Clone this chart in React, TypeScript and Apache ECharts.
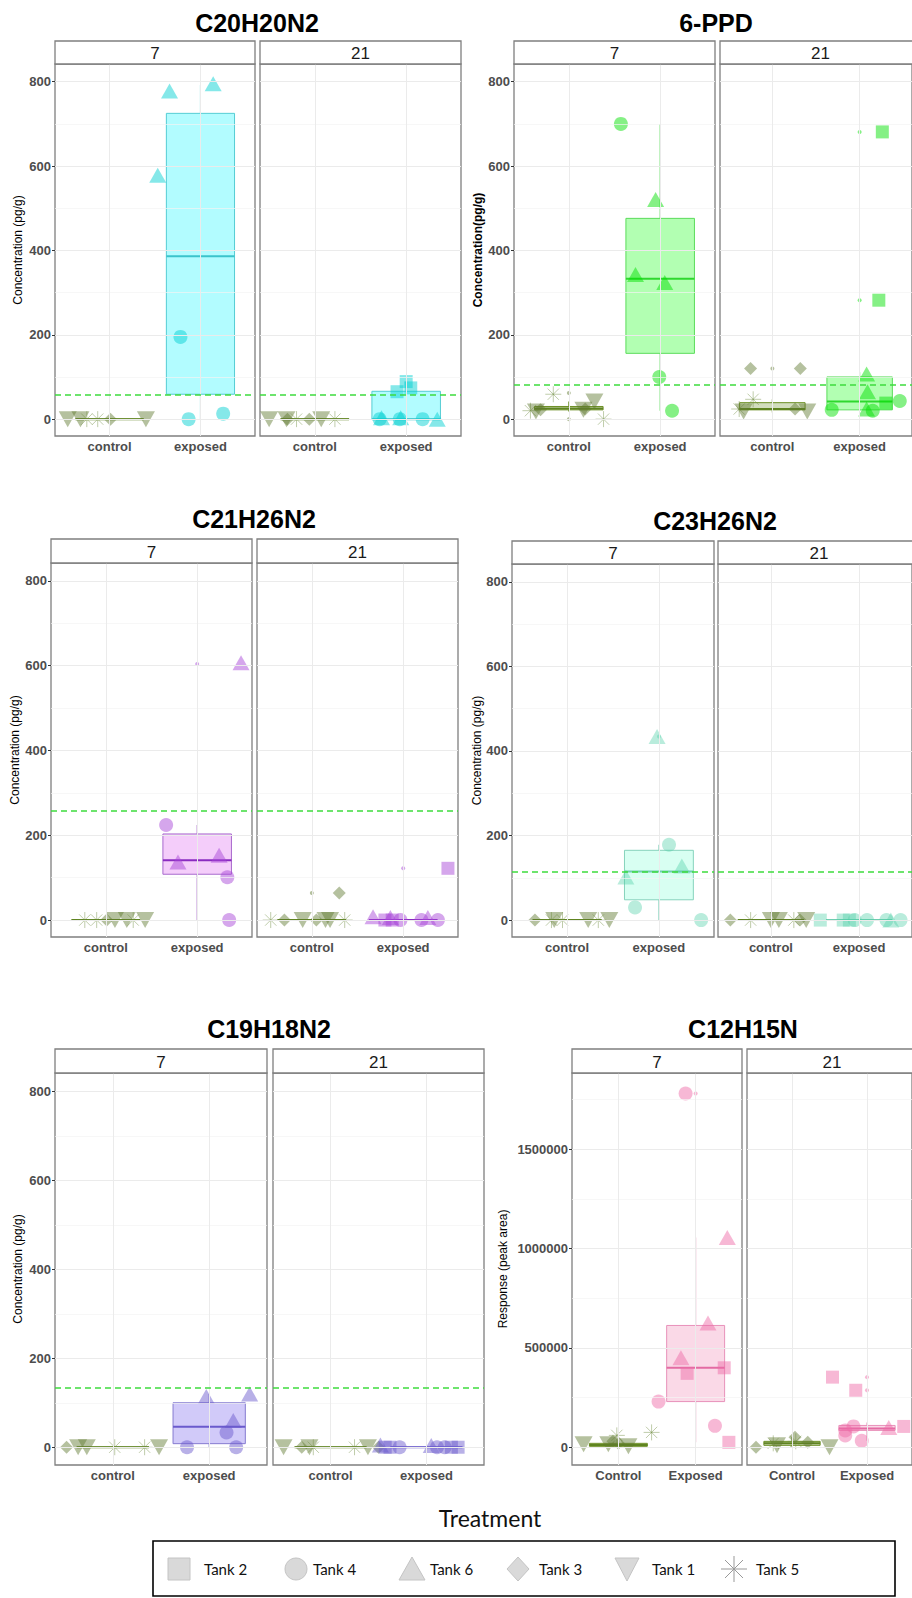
import React, { useEffect, useRef } from "react";
import * as echarts from "echarts";

// ---------------- DATA ----------------
const PANEL_TITLES = ["C20H20N2", "6-PPD", "C21H26N2", "C23H26N2", "C19H18N2", "C12H15N"];
const Y_TITLES = [
  "Concentration (pg/g)",
  "Concentration(pg/g)",
  "Concentration (pg/g)",
  "Concentration (pg/g)",
  "Concentration (pg/g)",
  "Response (peak area)",
];
const DAYS = ["7", "21"];
const TREATMENTS_LOWER = ["control", "exposed"];
const TREATMENTS_UPPER = ["Control", "Exposed"];
const CONC_TICKS = [0, 200, 400, 600, 800];
const CONC_MINOR = [100, 300, 500, 700];
const CONC_RANGE = [-40, 842];
const RESP_TICKS = [0, 500000, 1000000, 1500000];
const RESP_MINOR = [250000, 750000, 1250000, 1750000];
const RESP_RANGE = [-89000, 1883000];
// detection limit (dashed green line) per panel
const LOD = [58, 81, 258, 114, 133, null];
const LEGEND_TANKS = [2, 4, 6, 3, 1, 5];
const TANK_NAMES = { 1: "Tank 1", 2: "Tank 2", 3: "Tank 3", 4: "Tank 4", 5: "Tank 5", 6: "Tank 6" };
const CONTROL_TANKS = [1, 3, 5];

// points: [tank, jitter within treatment, value]
const C20_D7 = [
  [1, -0.46, 0], [1, -0.32, 0], [5, -0.25, 0], [5, -0.13, 0], [3, 0.01, 0], [1, 0.4, 0],
  [6, -0.34, 778], [6, 0.14, 795], [6, -0.47, 578], [4, -0.22, 195], [4, -0.13, 0], [4, 0.25, 13],
];
const C20_D21 = [
  [1, -0.5, 0], [3, -0.3, 0], [1, -0.31, 0], [5, -0.2, 0], [3, -0.06, 0], [1, 0.07, 0], [5, 0.22, 0],
  [2, -0.1, 65], [2, 0.0, 89], [2, 0.05, 74],
  [4, -0.29, 0], [6, -0.27, 3], [4, -0.07, 0], [6, -0.06, 3], [4, 0.18, 0], [6, 0.34, 0],
];
const PPD_D7 = [
  [5, -0.42, 20], [1, -0.36, 18], [3, -0.31, 22], [5, -0.17, 59], [1, 0.16, 22], [3, 0.18, 24], [1, 0.28, 42], [5, 0.38, 0],
  [4, -0.43, 700], [6, -0.05, 521], [6, -0.27, 343], [6, 0.05, 324], [4, -0.01, 100], [4, 0.13, 20],
];
const PPD_D21 = [
  [3, -0.25, 120], [3, 0.32, 120], [5, -0.22, 47], [5, -0.38, 24], [1, -0.33, 18], [3, 0.26, 24], [1, 0.4, 18],
  [4, -0.32, 22], [6, 0.08, 107], [6, 0.09, 65], [6, 0.08, 24], [4, 0.15, 20], [2, 0.3, 38], [4, 0.46, 43],
  [2, 0.26, 681], [2, 0.22, 282],
];
const C21_D7 = [
  [5, -0.23, 0], [5, -0.1, 0], [3, 0.01, 0], [1, 0.1, 0], [1, 0.23, 0], [5, 0.3, 0], [1, 0.43, 0],
  [4, -0.34, 224], [6, -0.21, 137], [6, 0.24, 153], [4, 0.33, 101], [4, 0.35, 0], [6, 0.48, 607],
];
const C21_D21 = [
  [5, -0.45, 0], [3, -0.3, 0], [1, -0.1, 0], [3, 0.05, 0], [1, 0.15, 0], [1, 0.2, 0], [5, 0.36, 0], [3, 0.3, 64],
  [6, -0.33, 8], [2, -0.2, 0], [6, -0.14, 6], [2, -0.12, 0], [4, -0.03, 0], [4, 0.2, 0], [6, 0.27, 6], [4, 0.38, 0],
  [2, 0.49, 122],
];
const C23_D7 = [
  [3, -0.35, 0], [1, -0.14, 0], [5, -0.17, 0], [5, -0.05, 0], [1, 0.23, 0], [5, 0.34, 0], [1, 0.46, 0],
  [6, -0.02, 434], [4, 0.11, 178], [6, 0.25, 128], [6, -0.36, 102], [4, -0.26, 30], [4, 0.46, 0],
];
const C23_D21 = [
  [3, -0.46, 0], [5, -0.23, 0], [1, 0.0, 0], [1, 0.09, 0], [5, 0.26, 0], [3, 0.33, 0], [1, 0.4, 0],
  [2, -0.44, 0], [2, -0.18, 0], [2, -0.11, 0], [4, -0.05, 0], [4, 0.09, 0], [4, 0.31, 0], [6, 0.36, 0], [4, 0.47, 0],
];
const C19_D7 = [
  [3, -0.48, 0], [1, -0.36, 0], [1, -0.27, 0], [5, 0.02, 0], [5, 0.33, 0], [1, 0.48, 0],
  [4, -0.23, 0], [6, -0.03, 114], [6, 0.42, 120], [6, 0.25, 60], [4, 0.18, 33], [4, 0.28, 0],
];
const C19_D21 = [
  [1, -0.49, 0], [3, -0.3, 0], [1, -0.22, 0], [5, -0.18, 0], [5, 0.25, 0], [1, 0.39, 0], [3, 0.5, 0],
  [6, -0.48, 5], [2, -0.43, 0], [2, -0.38, 0], [4, -0.28, 0], [6, 0.05, 4], [4, 0.11, 0], [4, 0.19, 0], [2, 0.26, 0], [2, 0.33, 0],
];
const C12_D7 = [
  [1, -0.45, 15000], [1, -0.13, 15000], [3, -0.07, 30000], [5, -0.02, 60000], [1, 0.13, 5000], [3, 0.0, 20000], [5, 0.43, 75000],
  [4, -0.13, 1780000], [6, 0.41, 1055000], [6, 0.16, 625000], [6, -0.19, 450000], [2, -0.11, 372000], [2, 0.37, 400000],
  [4, -0.48, 230000], [4, 0.25, 108000], [2, 0.43, 25000],
];
const C12_D21 = [
  [3, -0.48, 0], [1, -0.2, 10000], [5, -0.25, 20000], [3, 0.04, 50000], [3, 0.21, 25000], [1, 0.5, 0], [5, 0.05, 30000],
  [2, -0.46, 353000], [2, -0.15, 287000], [4, -0.18, 105000], [4, -0.29, 85000], [4, -0.29, 60000], [4, -0.07, 33000],
  [6, 0.29, 100000], [2, 0.49, 105000],
];

// boxes: [control, exposed] each [lower whisker, Q1, median, Q3, upper whisker]
const C20_D7_BOX = [[0, 0, 0, 0, 0], [0, 59, 386, 725, 792]];
const C20_D21_BOX = [[0, 0, 0, 0, 0], [0, 0, 0, 66, 89]];
const PPD_D7_BOX = [[18, 22, 25, 30, 42], [20, 156, 333, 476, 700]];
const PPD_D21_BOX = [[16, 22, 24, 39, 47], [20, 22, 42, 100, 111]];
const C21_D7_BOX = [[0, 0, 0, 0, 0], [0, 108, 141, 203, 224]];
const C21_D21_BOX = [[0, 0, 0, 0, 0], [0, 0, 0, 0, 0]];
const C23_D7_BOX = [[0, 0, 0, 0, 0], [0, 48, 115, 165, 178]];
const C23_D21_BOX = [[0, 0, 0, 0, 0], [0, 0, 0, 0, 0]];
const C19_D7_BOX = [[0, 0, 0, 0, 0], [0, 8, 46, 100, 120]];
const C19_D21_BOX = [[0, 0, 0, 0, 0], [0, 0, 0, 0, 0]];
const C12_D7_BOX = [[0, 5000, 12000, 20000, 40000], [25000, 230000, 400000, 613000, 1055000]];
const C12_D21_BOX = [[0, 10000, 20000, 30000, 50000], [33000, 85000, 95000, 110000, 125000]];

// boxplot outliers: [treatment (1 control, 2 exposed), value]
const C20_D7_OUT = [];
const C20_D21_OUT = [];
const PPD_D7_OUT = [[1, 62], [1, 0]];
const PPD_D21_OUT = [[1, 120], [2, 681], [2, 282]];
const C21_D7_OUT = [[2, 604]];
const C21_D21_OUT = [[1, 64], [2, 122]];
const C23_D7_OUT = [[2, 434]];
const C23_D21_OUT = [];
const C19_D7_OUT = [];
const C19_D21_OUT = [];
const C12_D7_OUT = [[2, 1780000]];
const C12_D21_OUT = [[2, 353000], [2, 287000]];

// ---------------- LAYOUT / STYLE ----------------
const FONT = "'Liberation Sans', Arial, sans-serif";
const PANELS = [
  { pts: [C20_D7, C20_D21], box: [C20_D7_BOX, C20_D21_BOX], out: [C20_D7_OUT, C20_D21_OUT],
    facets: [[55, 255], [260, 461]], top: 64, bottom: 436, stripTop: 41, titleX: 257, titleY: 23, yTitleX: 18 },
  { pts: [PPD_D7, PPD_D21], box: [PPD_D7_BOX, PPD_D21_BOX], out: [PPD_D7_OUT, PPD_D21_OUT],
    facets: [[514, 715], [720, 921]], top: 64, bottom: 436, stripTop: 41, titleX: 716, titleY: 23, yTitleX: 478, yTitleBold: true },
  { pts: [C21_D7, C21_D21], box: [C21_D7_BOX, C21_D21_BOX], out: [C21_D7_OUT, C21_D21_OUT],
    facets: [[51, 252], [257, 458]], top: 563, bottom: 937, stripTop: 539, titleX: 254, titleY: 519, yTitleX: 15 },
  { pts: [C23_D7, C23_D21], box: [C23_D7_BOX, C23_D21_BOX], out: [C23_D7_OUT, C23_D21_OUT],
    facets: [[512, 714], [718, 920]], top: 564, bottom: 937, stripTop: 541, titleX: 715, titleY: 521, yTitleX: 477 },
  { pts: [C19_D7, C19_D21], box: [C19_D7_BOX, C19_D21_BOX], out: [C19_D7_OUT, C19_D21_OUT],
    facets: [[55, 267], [273, 484]], top: 1073, bottom: 1465, stripTop: 1049, titleX: 269, titleY: 1029, yTitleX: 18 },
  { pts: [C12_D7, C12_D21], box: [C12_D7_BOX, C12_D21_BOX], out: [C12_D7_OUT, C12_D21_OUT],
    facets: [[572, 742], [747, 917]], top: 1073, bottom: 1465, stripTop: 1049, titleX: 743, titleY: 1029, yTitleX: 503 },
];

const COLORS = [
  { pt: "rgba(0,206,209,0.6)", fill: "rgba(0,245,255,0.3)", stroke: "#55CDD4", med: "#3BC3CB" },
  { pt: "rgba(0,224,0,0.6)", fill: "rgba(0,255,0,0.3)", stroke: "#5CDC5C", med: "#2ED82E" },
  { pt: "rgba(168,70,216,0.6)", fill: "rgba(224,112,240,0.35)", stroke: "#A86ACD", med: "#8A2BC0" },
  { pt: "rgba(80,208,168,0.5)", fill: "rgba(127,255,212,0.3)", stroke: "#86D3BC", med: "#6FCDB0" },
  { pt: "rgba(106,90,205,0.6)", fill: "rgba(123,104,238,0.35)", stroke: "#857BD0", med: "#6A5ACD" },
  { pt: "rgba(238,106,167,0.6)", fill: "rgba(240,128,176,0.3)", stroke: "#E891BA", med: "#E36BA3" },
];
const CONTROL = { pt: "rgba(95,122,48,0.58)", fill: "rgba(107,142,35,0.3)", stroke: "#6B8E23", med: "#5F8420", star: "rgba(110,139,61,0.55)" };

const ASTERISK = "path://M10,0L10,20M0,10L20,10M2.93,2.93L17.07,17.07M2.93,17.07L17.07,2.93";
const SHAPES = {
  2: { symbol: "rect", size: [13, 13], rotate: 0 },
  4: { symbol: "circle", size: [14, 14], rotate: 0 },
  6: { symbol: "triangle", size: [17, 15], rotate: 0 },
  3: { symbol: "diamond", size: [13, 13], rotate: 0 },
  1: { symbol: "triangle", size: [18, 16], rotate: 180 },
  5: { symbol: ASTERISK, size: [16, 16], rotate: 0, stroke: true },
};

function buildOption() {
  const grid: any[] = [];
  const xAxis: any[] = [];
  const yAxis: any[] = [];
  const series: any[] = [];
  const graphic: any[] = [];

  PANELS.forEach((p, pi) => {
    const isResp = pi === 5;
    const col = COLORS[pi];
    const labels = isResp ? TREATMENTS_UPPER : TREATMENTS_LOWER;
    const ticks = isResp ? RESP_TICKS : CONC_TICKS;
    const minor = isResp ? RESP_MINOR : CONC_MINOR;
    const range = isResp ? RESP_RANGE : CONC_RANGE;

    graphic.push({
      type: "text", x: p.titleX, y: p.titleY, z: 10,
      style: { text: PANEL_TITLES[pi], fontSize: 25, fontWeight: "bold", fontFamily: FONT, fill: "#000", align: "center", verticalAlign: "middle" },
    });
    graphic.push({
      type: "text", x: p.yTitleX, y: (p.top + p.bottom) / 2, rotation: Math.PI / 2, z: 10,
      style: { text: Y_TITLES[pi], fontSize: 12, fontWeight: p.yTitleBold ? "bold" : "normal", fontFamily: FONT, fill: "#000", align: "center", verticalAlign: "middle" },
    });

    DAYS.forEach((day, di) => {
      const idx = grid.length;
      const [x0, x1] = p.facets[di];
      grid.push({
        left: x0, top: p.top, width: x1 - x0, height: p.bottom - p.top,
        show: true, borderColor: "#7F7F7F", borderWidth: 1.3, backgroundColor: "#fff", containLabel: false,
      });
      graphic.push({
        type: "rect", z: 10,
        shape: { x: x0, y: p.stripTop, width: x1 - x0, height: p.top - p.stripTop },
        style: { fill: "#fff", stroke: "#7F7F7F", lineWidth: 1.3 },
      });
      graphic.push({
        type: "text", z: 11, x: (x0 + x1) / 2, y: (p.stripTop + p.top) / 2 + 1,
        style: { text: day, fontSize: 17, fontFamily: FONT, fill: "#1A1A1A", align: "center", verticalAlign: "middle" },
      });
      xAxis.push({
        type: "value", gridIndex: idx, min: 0.4, max: 2.6,
        splitLine: { show: false }, axisLine: { show: false },
        axisTick: { show: true, customValues: [1, 2], length: 3, lineStyle: { color: "#333" } },
        axisLabel: {
          customValues: [1, 2], formatter: (v: number) => labels[Math.round(v) - 1] || "",
          fontSize: 13, fontWeight: "bold", color: "#4D4D4D", fontFamily: FONT, margin: 4,
        },
      });
      yAxis.push({
        type: "value", gridIndex: idx, min: range[0], max: range[1],
        splitLine: { show: false }, axisLine: { show: false },
        axisTick: { show: di === 0, customValues: ticks, length: 3, lineStyle: { color: "#333" } },
        axisLabel: {
          show: di === 0, customValues: ticks, formatter: (v: number) => String(v),
          fontSize: 13, fontWeight: "bold", color: "#4D4D4D", fontFamily: FONT, margin: 4,
        },
      });

      // gridlines
      series.push({
        type: "scatter", xAxisIndex: idx, yAxisIndex: idx, data: [], z: 1, silent: true,
        markLine: {
          silent: true, symbol: ["none", "none"], label: { show: false }, animation: false,
          data: [
            ...minor.map((v) => ({ yAxis: v, lineStyle: { color: "#F3F3F3", width: 0.7, type: "solid" } })),
            ...ticks.map((v) => ({ yAxis: v, lineStyle: { color: "#EBEBEB", width: 1, type: "solid" } })),
            ...[1, 2].map((v) => ({ xAxis: v, lineStyle: { color: "#EBEBEB", width: 1, type: "solid" } })),
          ],
        },
      });

      // boxes
      const boxes = p.box[di];
      series.push({
        type: "custom", xAxisIndex: idx, yAxisIndex: idx, z: 2, silent: true,
        data: boxes.map((b, t) => [t + 1, ...b, t]),
        encode: { x: 0, y: [1, 2, 3, 4, 5] },
        renderItem: (params: any, api: any) => {
          const x = api.value(0);
          const t = api.value(6);
          const c = t === 0 ? CONTROL : col;
          const pLo = api.coord([x, api.value(1)]);
          const pQ1 = api.coord([x, api.value(2)]);
          const pMed = api.coord([x, api.value(3)]);
          const pQ3 = api.coord([x, api.value(4)]);
          const pHi = api.coord([x, api.value(5)]);
          const half = api.size([0.75, 0])[0] / 2;
          const cx = pMed[0];
          return {
            type: "group",
            children: [
              { type: "line", shape: { x1: cx, y1: pHi[1], x2: cx, y2: pQ3[1] }, style: { stroke: c.stroke, lineWidth: 1.1 } },
              { type: "line", shape: { x1: cx, y1: pQ1[1], x2: cx, y2: pLo[1] }, style: { stroke: c.stroke, lineWidth: 1.1 } },
              { type: "rect", shape: { x: cx - half, y: pQ3[1], width: half * 2, height: pQ1[1] - pQ3[1] }, style: { fill: c.fill, stroke: c.stroke, lineWidth: 1 } },
              { type: "line", shape: { x1: cx - half, y1: pMed[1], x2: cx + half, y2: pMed[1] }, style: { stroke: c.med, lineWidth: 2 } },
            ],
          };
        },
      });

      // outliers
      series.push({
        type: "scatter", xAxisIndex: idx, yAxisIndex: idx, z: 3, silent: true,
        symbol: "circle", symbolSize: 4,
        data: p.out[di].map(([t, v]) => ({ value: [t, v], itemStyle: { color: t === 1 ? CONTROL.pt : col.pt } })),
      });

      // jittered points
      series.push({
        type: "scatter", xAxisIndex: idx, yAxisIndex: idx, z: 4, silent: true,
        data: p.pts[di].map(([tank, jit, val]) => {
          const isControl = CONTROL_TANKS.includes(tank);
          const sh = SHAPES[tank];
          return {
            value: [(isControl ? 1 : 2) + jit, val],
            symbol: sh.symbol, symbolSize: sh.size, symbolRotate: sh.rotate,
            itemStyle: sh.stroke
              ? { color: "rgba(0,0,0,0)", borderColor: CONTROL.star, borderWidth: 1 }
              : { color: isControl ? CONTROL.pt : col.pt, borderWidth: 0 },
          };
        }),
      });

      // detection limit
      if (LOD[pi] != null) {
        series.push({
          type: "scatter", xAxisIndex: idx, yAxisIndex: idx, data: [], z: 5, silent: true,
          markLine: {
            silent: true, symbol: ["none", "none"], label: { show: false }, animation: false,
            data: [{ yAxis: LOD[pi], lineStyle: { color: "#3EDB3E", width: 1.6, type: [6, 4] } }],
          },
        });
      }
    });
  });

  // x-axis title
  graphic.push({
    type: "text", x: 490, y: 1518, z: 10,
    style: { text: "Treatment", fontSize: 23, fontFamily: "Lato, 'Open Sans', sans-serif", fill: "#111", align: "center", verticalAlign: "middle" },
  });

  // legend
  const LY = 1569;
  const legendGray = { fill: "#D9D9D9", stroke: "#C4C4C4", lineWidth: 1 };
  graphic.push({ type: "rect", z: 10, shape: { x: 153, y: 1541, width: 742, height: 55 }, style: { fill: "none", stroke: "#000", lineWidth: 1.6 } });
  const shapeX = [179, 296, 412, 518, 627, 734];
  const textX = [204, 313, 430, 539, 652, 756];
  LEGEND_TANKS.forEach((tank, i) => {
    const cx = shapeX[i];
    let el: any;
    if (tank === 2) el = { type: "rect", shape: { x: cx - 11, y: LY - 11, width: 22, height: 22 }, style: legendGray };
    else if (tank === 4) el = { type: "circle", shape: { cx, cy: LY, r: 11 }, style: legendGray };
    else if (tank === 6) el = { type: "polygon", shape: { points: [[cx, LY - 12], [cx + 13, LY + 11], [cx - 13, LY + 11]] }, style: legendGray };
    else if (tank === 3) el = { type: "polygon", shape: { points: [[cx, LY - 12], [cx + 11, LY], [cx, LY + 12], [cx - 11, LY]] }, style: legendGray };
    else if (tank === 1) el = { type: "polygon", shape: { points: [[cx - 12, LY - 11], [cx + 12, LY - 11], [cx, LY + 12]] }, style: legendGray };
    else {
      el = {
        type: "group",
        children: [
          { type: "line", shape: { x1: cx, y1: LY - 13, x2: cx, y2: LY + 13 }, style: { stroke: "#999", lineWidth: 1 } },
          { type: "line", shape: { x1: cx - 13, y1: LY, x2: cx + 13, y2: LY }, style: { stroke: "#999", lineWidth: 1 } },
          { type: "line", shape: { x1: cx - 9, y1: LY - 9, x2: cx + 9, y2: LY + 9 }, style: { stroke: "#999", lineWidth: 1 } },
          { type: "line", shape: { x1: cx - 9, y1: LY + 9, x2: cx + 9, y2: LY - 9 }, style: { stroke: "#999", lineWidth: 1 } },
        ],
      };
    }
    el.z = 11;
    graphic.push(el);
    graphic.push({
      type: "text", z: 11, x: textX[i], y: LY,
      style: { text: TANK_NAMES[tank], fontSize: 15, fontFamily: "Lato, 'Open Sans', sans-serif", fill: "#111", align: "left", verticalAlign: "middle" },
    });
  });

  return {
    animation: false,
    backgroundColor: "#fff",
    grid, xAxis, yAxis, series, graphic,
  };
}

export default function App() {
  const ref = useRef<HTMLDivElement>(null);
  useEffect(() => {
    if (!ref.current) return;
    const chart = echarts.init(ref.current, undefined, { renderer: "svg" });
    chart.setOption(buildOption() as any);
    return () => chart.dispose();
  }, []);
  return (
    <div
      ref={ref}
      style={{ position: "absolute", left: 0, top: 0, width: 912, height: 1598, background: "#fff" }}
    />
  );
}
